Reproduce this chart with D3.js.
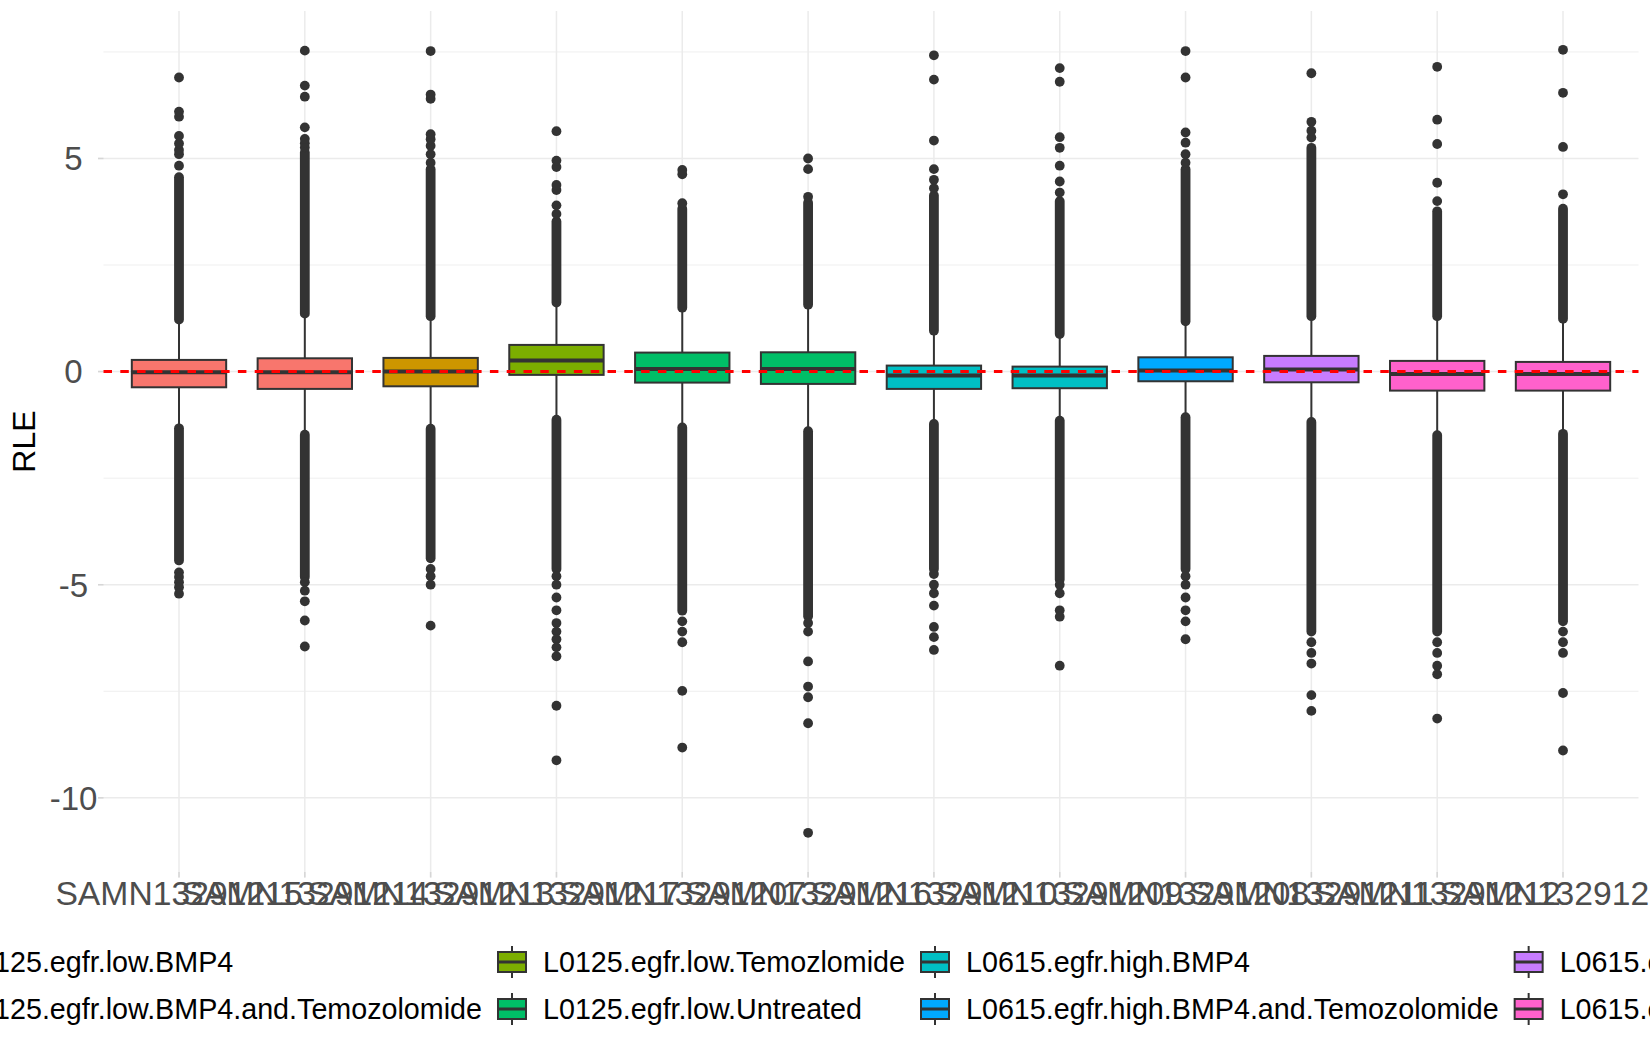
<!DOCTYPE html>
<html>
<head>
<meta charset="utf-8">
<script src="https://cdn.jsdelivr.net/npm/d3@7"></script>
<style>
  html, body { margin: 0; padding: 0; background: #ffffff; }
  svg { display: block; }
  text { font-family: "Liberation Sans", Arial, Helvetica, sans-serif; }
</style>
</head>
<body>
<svg id="chart" width="1650" height="1050"></svg>
<script>
// ---------------- DATA ----------------
const categories = ["SAMN13291215","SAMN13291214","SAMN13291213","SAMN13291217","SAMN13291207","SAMN13291216",
                    "SAMN13291210","SAMN13291209","SAMN13291208","SAMN13291211","SAMN13291212","SAMN13291206"];
const sampleGroup = [0,0,1,2,3,3,4,4,5,6,7,7];
const groupLevels = ["L0125.egfr.low.BMP4","L0125.egfr.low.BMP4.and.Temozolomide","L0125.egfr.low.Temozlomide",
                     "L0125.egfr.low.Untreated","L0615.egfr.high.BMP4","L0615.egfr.high.BMP4.and.Temozolomide",
                     "L0615.egfr.high.Temozlomide","L0615.egfr.high.Untreated"];
const groupColors = ["#F8766D","#CD9600","#7CAE00","#00BE67","#00BFC4","#00A9FF","#C77CFF","#FF61CC"];

const q1     = [-0.368,-0.406,-0.345,-0.077,-0.258,-0.289,-0.406,-0.390,-0.227,-0.251,-0.446,-0.446];
const median = [-0.016,-0.016, 0.000, 0.258, 0.063, 0.063,-0.094,-0.094, 0.023, 0.047,-0.054,-0.054];
const q3     = [ 0.274, 0.312, 0.321, 0.626, 0.446, 0.453, 0.141, 0.117, 0.335, 0.368, 0.251, 0.227];
const whiskerLow  = [-1.30,-1.45,-1.32,-1.10,-1.29,-1.38,-1.20,-1.12,-1.05,-1.16,-1.47,-1.44];
const whiskerHigh = [ 1.20, 1.34, 1.28, 1.60, 1.46, 1.52, 0.95, 0.86, 1.15, 1.28, 1.28, 1.22];

// dense runs of outliers (continuous columns of points) [from, to]
const denseHigh = [[1.22,4.56],[1.36,5.14],[1.30,4.75],[1.62,3.52],[1.50,3.82],[1.57,3.96],
                   [0.96,4.13],[0.88,4.00],[1.18,4.75],[1.30,5.25],[1.30,3.76],[1.24,3.82]];
const denseLow  = [[-4.43,-1.33],[-4.82,-1.48],[-4.38,-1.34],[-4.63,-1.13],[-5.61,-1.31],[-5.74,-1.40],
                   [-4.63,-1.23],[-4.88,-1.15],[-4.63,-1.07],[-6.10,-1.18],[-6.10,-1.49],[-5.86,-1.46]];
// isolated outliers
const sparseHigh = [
  [4.83,5.10,5.20,5.35,5.53,5.98,6.10,6.90],
  [5.26,5.36,5.46,5.73,6.45,6.71,7.53],
  [4.90,5.10,5.30,5.45,5.57,6.40,6.50,7.52],
  [3.70,3.90,4.26,4.38,4.80,4.95,5.64],
  [3.95,4.63,4.73],
  [4.10,4.75,5.00],
  [4.30,4.50,4.75,5.42,6.85,7.42],
  [4.20,4.46,4.83,5.25,5.50,6.80,7.12],
  [4.90,5.10,5.37,5.61,6.90,7.52],
  [5.49,5.65,5.86,7.00],
  [4.00,4.43,5.34,5.91,7.15],
  [4.16,5.27,6.54,7.55]
];
const sparseLow = [
  [-4.71,-4.82,-4.94,-5.06,-5.21],
  [-4.94,-5.14,-5.39,-5.84,-6.45],
  [-4.63,-4.80,-5.00,-5.96],
  [-4.80,-5.00,-5.30,-5.60,-5.90,-6.10,-6.28,-6.47,-6.68,-7.84,-9.12],
  [-5.86,-6.10,-6.35,-7.49,-8.82],
  [-5.90,-6.10,-6.80,-7.39,-7.64,-8.25,-10.82],
  [-4.75,-5.00,-5.20,-5.49,-5.99,-6.23,-6.53],
  [-5.00,-5.20,-5.60,-5.75,-6.90],
  [-4.80,-5.00,-5.30,-5.60,-5.86,-6.28],
  [-6.35,-6.60,-6.85,-7.59,-7.96],
  [-6.35,-6.60,-6.90,-7.10,-8.14],
  [-6.10,-6.35,-6.60,-7.54,-8.89]
];
const yMajorTicks = [-10,-5,0,5];
const yMinorTicks = [-7.5,-2.5,2.5,7.5];
const yTitle = "RLE";
const yDomain = [-11.74, 8.46];

// ---------------- LAYOUT ----------------
const svg = d3.select("#chart");
const panel = {left: 103.5, right: 1638.5, top: 11, bottom: 872};
const x = d3.scalePoint().domain(categories).range([panel.left, panel.right]).padding(0.6);
const y = d3.scaleLinear().domain(yDomain).range([panel.bottom, panel.top]);
const step = x.step();
const boxW = step * 0.75;
const gridCol = "#EBEBEB";
const dark = "#333333";
const ptR = 4.9;

// minor grid
svg.append("g").selectAll("line").data(yMinorTicks).join("line")
  .attr("x1", panel.left).attr("x2", panel.right)
  .attr("y1", d => y(d)).attr("y2", d => y(d))
  .attr("stroke", gridCol).attr("stroke-width", 0.8);

// major grid (horizontal)
svg.append("g").selectAll("line").data(yMajorTicks).join("line")
  .attr("x1", panel.left - 5.5).attr("x2", panel.right)
  .attr("y1", d => y(d)).attr("y2", d => y(d))
  .attr("stroke", gridCol).attr("stroke-width", 1.5);
// major grid (vertical)
svg.append("g").selectAll("line").data(categories).join("line")
  .attr("x1", d => x(d)).attr("x2", d => x(d))
  .attr("y1", panel.top).attr("y2", panel.bottom + 5.5)
  .attr("stroke", gridCol).attr("stroke-width", 1.5);
// tick marks (slightly darker)
svg.append("g").selectAll("line").data(yMajorTicks).join("line")
  .attr("x1", panel.left - 5.5).attr("x2", panel.left)
  .attr("y1", d => y(d)).attr("y2", d => y(d))
  .attr("stroke", "#D6D6D6").attr("stroke-width", 1.5);
svg.append("g").selectAll("line").data(categories).join("line")
  .attr("x1", d => x(d)).attr("x2", d => x(d))
  .attr("y1", panel.bottom).attr("y2", panel.bottom + 5.5)
  .attr("stroke", "#D6D6D6").attr("stroke-width", 1.5);

// boxes
const boxes = svg.append("g");
categories.forEach((c, i) => {
  const cx = x(c);
  const g = boxes.append("g");
  g.append("line").attr("x1", cx).attr("x2", cx).attr("y1", y(q3[i])).attr("y2", y(whiskerHigh[i]))
    .attr("stroke", dark).attr("stroke-width", 2);
  g.append("line").attr("x1", cx).attr("x2", cx).attr("y1", y(q1[i])).attr("y2", y(whiskerLow[i]))
    .attr("stroke", dark).attr("stroke-width", 2);
  [denseHigh[i], denseLow[i]].forEach(r => {
    g.append("line").attr("x1", cx).attr("x2", cx).attr("y1", y(r[0])).attr("y2", y(r[1]))
      .attr("stroke", dark).attr("stroke-width", ptR * 2).attr("stroke-linecap", "round");
  });
  g.selectAll("circle.o").data(sparseHigh[i].concat(sparseLow[i])).join("circle")
    .attr("cx", cx).attr("cy", d => y(d)).attr("r", ptR).attr("fill", dark);
  g.append("rect").attr("x", cx - boxW / 2).attr("width", boxW)
    .attr("y", y(q3[i])).attr("height", y(q1[i]) - y(q3[i]))
    .attr("fill", groupColors[sampleGroup[i]]).attr("stroke", dark).attr("stroke-width", 2);
  g.append("line").attr("x1", cx - boxW / 2).attr("x2", cx + boxW / 2)
    .attr("y1", y(median[i])).attr("y2", y(median[i]))
    .attr("stroke", dark).attr("stroke-width", 4);
});

// red dashed reference line at 0
svg.append("line").attr("x1", panel.left).attr("x2", panel.right)
  .attr("y1", y(0)).attr("y2", y(0))
  .attr("stroke", "#FF0000").attr("stroke-width", 3).attr("stroke-dasharray", "8.5,8.3");

// y tick labels (centred, as in the reference)
svg.append("g").selectAll("text").data(yMajorTicks).join("text")
  .attr("x", 73.5).attr("y", d => y(d) + 11.8)
  .attr("text-anchor", "middle").attr("font-size", 33).attr("fill", "#4D4D4D")
  .text(d => d);

// x tick labels
svg.append("g").selectAll("text").data(categories).join("text")
  .attr("x", d => x(d)).attr("y", 905)
  .attr("text-anchor", "middle").attr("font-size", 33.7).attr("fill", "#4D4D4D")
  .text(d => d);

// y title
svg.append("text").attr("transform", `translate(35,${(panel.top + panel.bottom) / 2}) rotate(-90)`)
  .attr("text-anchor", "middle").attr("font-size", 32).attr("fill", "#000")
  .text(yTitle);

// legend (2 rows, column-major)
const legFont = 28.7, keyW = 28, keyH = 20, keyGap = 17, colSpace = 16;
const rowsY = [962, 1009];
const leg = svg.append("g");
const measure = leg.append("text").attr("font-size", legFont).attr("visibility", "hidden");
const labelW = groupLevels.map(l => { measure.text(l); return measure.node().getComputedTextLength(); });
measure.remove();
const nCols = Math.ceil(groupLevels.length / 2);
const colW = d3.range(nCols).map(c => keyW + keyGap + Math.max(labelW[c * 2], labelW[c * 2 + 1] || 0) + colSpace);
const legendLeft = 498 - colW[0];
let cum = legendLeft;
const colX = colW.map(w => { const v = cum; cum += w; return v; });
groupLevels.forEach((lab, k) => {
  const col = Math.floor(k / 2), row = k % 2;
  const kx = colX[col], cy = rowsY[row];
  const g = leg.append("g");
  g.append("line").attr("x1", kx + keyW / 2).attr("x2", kx + keyW / 2)
    .attr("y1", cy - keyH / 2 - 6).attr("y2", cy + keyH / 2 + 6)
    .attr("stroke", dark).attr("stroke-width", 2);
  g.append("rect").attr("x", kx).attr("y", cy - keyH / 2).attr("width", keyW).attr("height", keyH)
    .attr("fill", groupColors[k]).attr("stroke", dark).attr("stroke-width", 2);
  g.append("line").attr("x1", kx).attr("x2", kx + keyW).attr("y1", cy).attr("y2", cy)
    .attr("stroke", dark).attr("stroke-width", 3);
  g.append("text").attr("x", kx + keyW + keyGap).attr("y", cy + 10.2)
    .attr("font-size", legFont).attr("fill", "#000").text(lab);
});
</script>
</body>
</html>
